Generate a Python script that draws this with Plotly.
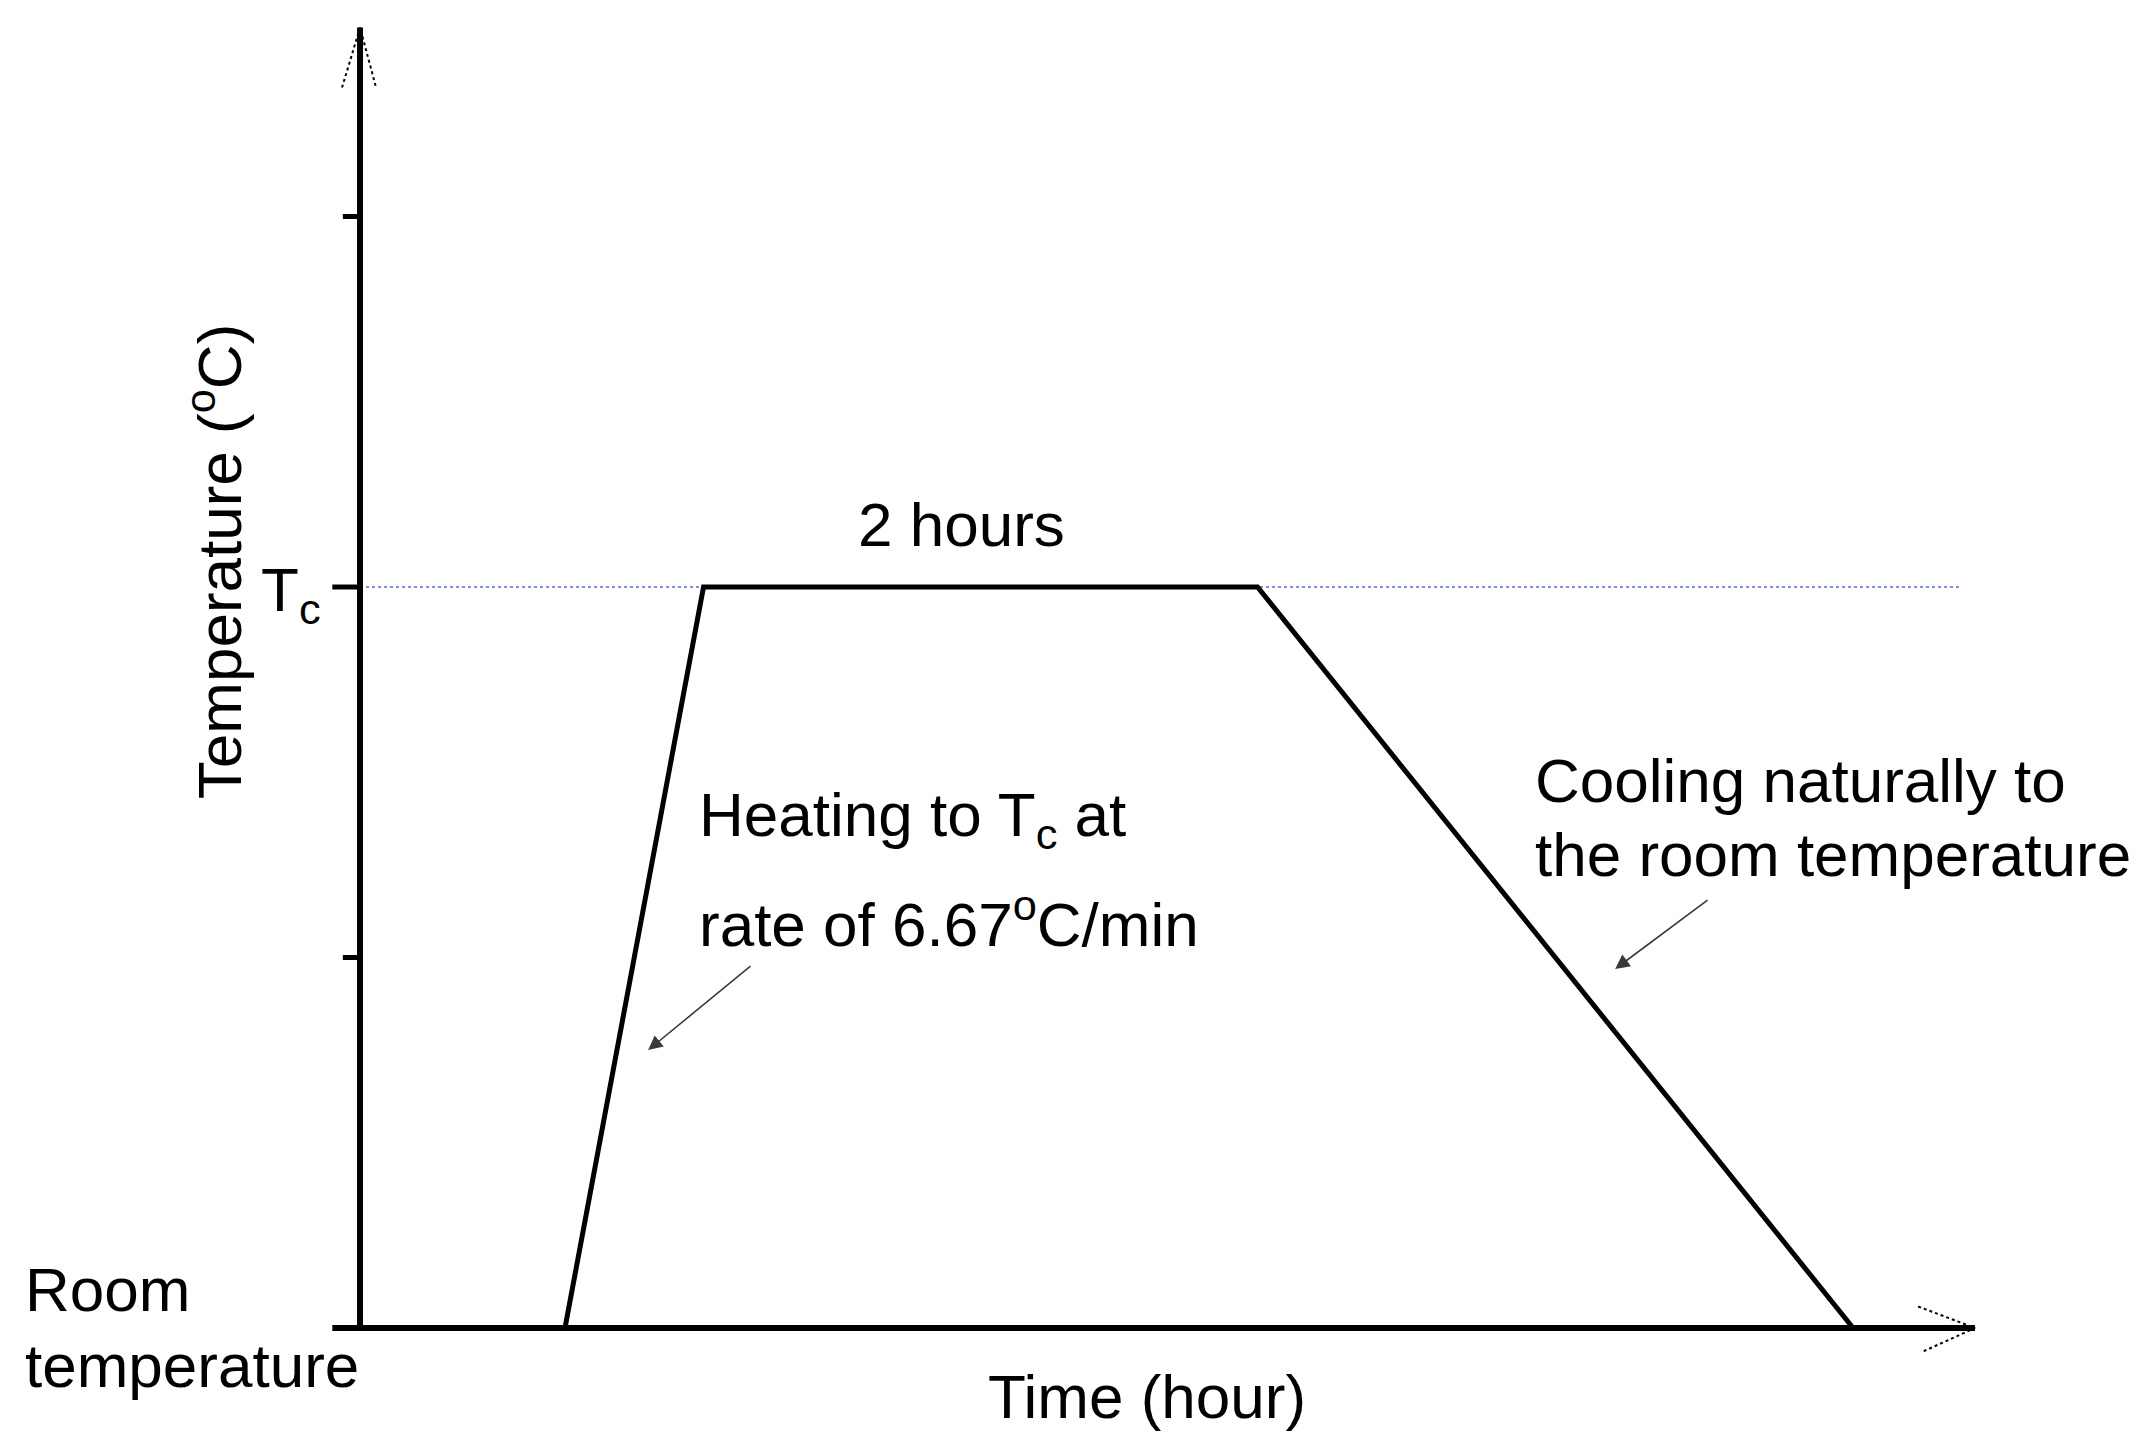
import plotly.graph_objects as go

# Heat-treatment profile (time in hours, temperature in tick units: room = 0, Tc = 2)
profile_time = [0.0, 0.74, 1.24, 3.24, 5.39]
profile_temp = [0, 0, 2, 2, 0]

room_temp = 0
tc_temp = 2
ytick_vals = [1, 2, 3]

x_axis_end = 5.83
y_axis_end = 3.51
tc_line_end = 5.78

FONT = "Liberation Sans, Arial, sans-serif"
FS = 62
BLACK = "#000000"

fig = go.Figure()

# dotted Tc reference line
fig.add_trace(go.Scatter(
    x=[0, tc_line_end], y=[tc_temp, tc_temp], mode="lines",
    line=dict(color="#7f8fe8", width=2, dash="dot"), hoverinfo="skip"))

# axes
fig.add_trace(go.Scatter(
    x=[0, 0], y=[room_temp, y_axis_end], mode="lines",
    line=dict(color=BLACK, width=6), hoverinfo="skip"))
fig.add_trace(go.Scatter(
    x=[-0.1, x_axis_end], y=[room_temp, room_temp], mode="lines",
    line=dict(color=BLACK, width=6), hoverinfo="skip"))

# y ticks (Tc tick is longer)
for v in ytick_vals:
    ln = 0.1 if v == tc_temp else 0.062
    fig.add_trace(go.Scatter(
        x=[-ln, 0], y=[v, v], mode="lines",
        line=dict(color=BLACK, width=5), hoverinfo="skip"))

# open dotted arrow heads on the axes
fig.add_trace(go.Scatter(
    x=[-0.065, 0, 0.058], y=[y_axis_end - 0.162, y_axis_end, y_axis_end - 0.162],
    mode="lines", line=dict(color=BLACK, width=2, dash="dot"), hoverinfo="skip"))
fig.add_trace(go.Scatter(
    x=[x_axis_end - 0.205, x_axis_end, x_axis_end - 0.195],
    y=[room_temp + 0.058, room_temp, room_temp - 0.066],
    mode="lines", line=dict(color=BLACK, width=2, dash="dot"), hoverinfo="skip"))

# temperature profile
fig.add_trace(go.Scatter(
    x=profile_time, y=profile_temp, mode="lines",
    line=dict(color=BLACK, width=5), hoverinfo="skip"))

txt = dict(showarrow=False, font=dict(family=FONT, size=FS, color=BLACK),
           xref="x", yref="y")

fig.add_annotation(text="2 hours", x=2.17, y=2.17, xanchor="center", yanchor="middle", **txt)
fig.add_annotation(text="Heating to T<sub>c</sub> at", x=1.217, y=1.375,
                   xanchor="left", yanchor="middle", **txt)
fig.add_annotation(text="rate of 6.67<sup>o</sup>C/min", x=1.217, y=1.10,
                   xanchor="left", yanchor="middle", **txt)
fig.add_annotation(text="Cooling naturally to", x=4.235, y=1.479,
                   xanchor="left", yanchor="middle", **txt)
fig.add_annotation(text="the room temperature", x=4.235, y=1.279,
                   xanchor="left", yanchor="middle", **txt)
fig.add_annotation(text="Room", x=-1.217, y=0.103, xanchor="left", yanchor="middle", **txt)
fig.add_annotation(text="temperature", x=-1.217, y=-0.1, xanchor="left", yanchor="middle", **txt)
fig.add_annotation(text="Time (hour)", x=2.84, y=-0.186, xanchor="center", yanchor="middle", **txt)
fig.add_annotation(text="Temperature (<sup>o</sup>C)", x=-0.523, y=2.07, textangle=-90,
                   xanchor="center", yanchor="middle", **txt)
fig.add_annotation(text="T<sub>c</sub>", x=-0.25, y=1.98, xanchor="center", yanchor="middle", **txt)

# pointer arrows
arrow = dict(showarrow=True, arrowhead=2, arrowsize=1.8, arrowwidth=1.6, arrowcolor="#3a3a3a",
             xref="x", yref="y", axref="x", ayref="y", text="")
fig.add_annotation(x=1.04, y=0.75, ax=1.415, ay=0.98, **arrow)
fig.add_annotation(x=4.531, y=0.969, ax=4.87, ay=1.158, **arrow)

# the page body adds an 8px offset, so the ranges are shifted by that amount
fig.update_layout(
    width=2152, height=1452,
    margin=dict(l=0, r=0, t=0, b=0),
    paper_bgcolor="white", plot_bgcolor="white",
    showlegend=False,
    xaxis=dict(range=[-1.2708, 6.498], visible=False, fixedrange=True),
    yaxis=dict(range=[-0.3563, 3.5628], visible=False, fixedrange=True),
)

fig.write_html("out.html")
